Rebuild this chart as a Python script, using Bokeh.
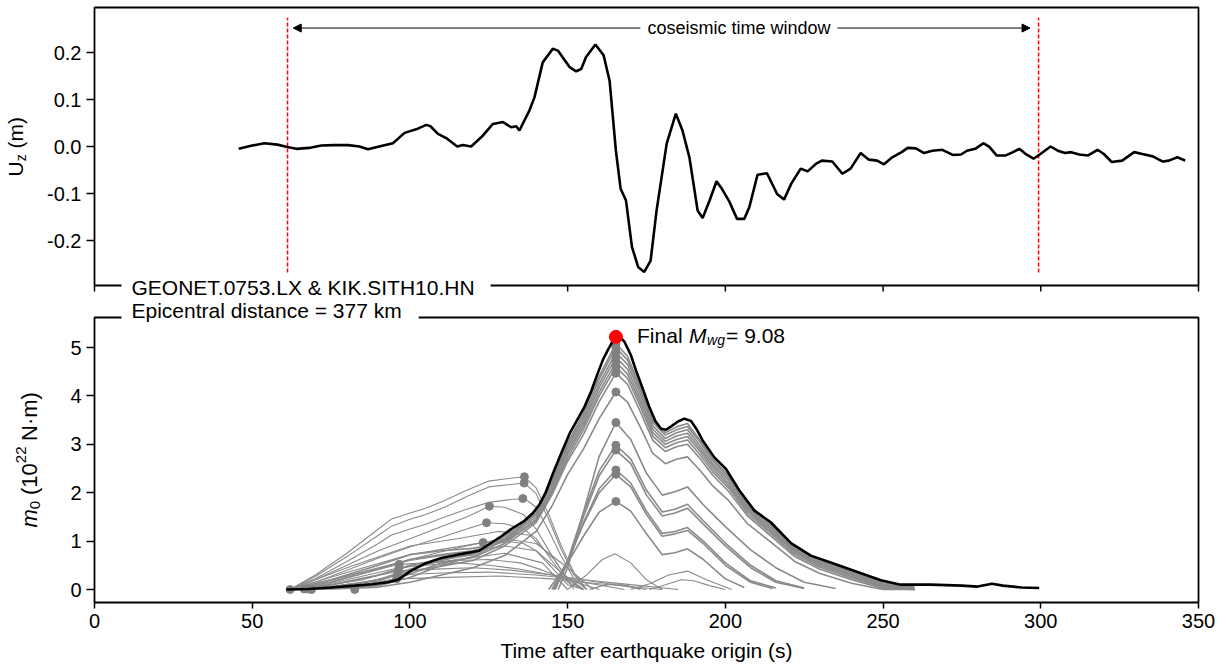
from bokeh.plotting import figure
from bokeh.layouts import column, row
from bokeh.models import (Range1d, FixedTicker, NumeralTickFormatter, Label, Arrow,
                          NormalHead, BoxAnnotation)
from bokeh.embed import file_html
from bokeh.resources import INLINE

FONT = "Liberation Sans"

# ---------------- data: top panel (vertical displacement, m) ----------------
top_t = [45.7, 50, 53.9, 58, 61.1, 64, 68, 71.9, 76, 80.4,
         84, 86.7, 90.9, 94.6, 98.3, 102.5, 105.2, 106.5, 108.9, 111.5,
         115, 116.8, 119.4, 123.1, 126.3, 129.5, 132.1, 133.7, 134.7, 137.9,
         139.5, 142.1, 145.3, 146.9, 150.6, 152.7, 154.3, 155.8, 158.8, 161.4,
         163.3, 165.3, 166.8, 168.5, 170.4, 172.4, 174.3, 176.3, 178.2, 181.4,
         184.3, 186.4, 188.6, 191.2, 192.8, 195, 197.2, 198.9, 201.1, 203.7,
         206, 207.6, 210.2, 213.2, 216.4, 218.6, 220.9, 223.9, 226.1, 228.7,
         230.6, 233.9, 237.1, 239.7, 242.9, 245.5, 248.1, 250.3, 252.9, 255.9,
         257.8, 260.4, 263, 265.6, 268.8, 272.1, 274.7, 276.6, 279.2, 281.8,
         283.7, 286, 288.9, 291.2, 293.2, 295.4, 297.7, 299.9, 303.1, 305.4,
         307.7, 309.6, 312.2, 315, 318, 320, 322.5, 325.8, 329.6, 332.2,
         335.5, 338.7, 340.6, 343.3, 345.8]
top_u = [-0.005, 0.002, 0.007, 0.004, -0.001, -0.005, -0.003, 0.002, 0.003, 0.003,
         0.0, -0.006, 0.001, 0.007, 0.029, 0.038, 0.046, 0.043, 0.027, 0.018,
         0.0, 0.003, 0.0, 0.023, 0.048, 0.052, 0.041, 0.043, 0.034, 0.077,
         0.105, 0.179, 0.208, 0.204, 0.169, 0.160, 0.165, 0.19, 0.217, 0.194,
         0.140, -0.009, -0.090, -0.115, -0.214, -0.257, -0.267, -0.243, -0.136, 0.006,
         0.070, 0.034, -0.023, -0.136, -0.152, -0.115, -0.074, -0.090, -0.115, -0.154,
         -0.154, -0.129, -0.060, -0.057, -0.101, -0.113, -0.079, -0.047, -0.053, -0.037,
         -0.030, -0.032, -0.058, -0.047, -0.014, -0.028, -0.030, -0.038, -0.023, -0.012,
         -0.003, -0.004, -0.014, -0.009, -0.007, -0.018, -0.017, -0.009, -0.005, 0.007,
         -0.001, -0.019, -0.019, -0.012, -0.005, -0.017, -0.026, -0.016, 0.0, -0.009,
         -0.014, -0.012, -0.017, -0.019, -0.007, -0.016, -0.033, -0.030, -0.012, -0.016,
         -0.021, -0.032, -0.030, -0.023, -0.030]

window_t = [61.2, 299.3]        # coseismic time window (s)
window_u = [-0.268, 0.274]      # extent of the dashed markers (m)
arrow_u = 0.252

# ---------------- data: bottom panel (moment, 1e22 N m) ----------------
bk_t = [60.8, 67.7, 75, 82.5, 88, 93, 96.2, 100.4, 104.6, 109.9,
        115.2, 122, 125.2, 129, 132.1, 136.3, 139, 141, 143, 145.3,
        148, 150.6, 153, 155.3, 157.5, 159.5, 161.2, 162.7, 164.2, 165.3,
        166.5, 168, 170, 171.7, 173.8, 175.9, 177.8, 179.6, 181.2, 182.8,
        185, 187, 189.1, 191, 192.8, 196.5, 200.2, 204.4, 209.2, 214.4,
        220.8, 227.1, 234.5, 241.9, 249.3, 255.6, 265, 275, 280, 284.5,
        288, 294, 299.5]
bk_m = [0, 0.01, 0.04, 0.08, 0.11, 0.15, 0.2, 0.39, 0.53, 0.65,
        0.72, 0.80, 0.94, 1.1, 1.25, 1.42, 1.58, 1.75, 2.0, 2.39,
        2.82, 3.22, 3.5, 3.77, 4.1, 4.46, 4.75, 4.94, 5.12, 5.22,
        5.22, 5.12, 4.85, 4.52, 4.15, 3.77, 3.48, 3.32, 3.3, 3.37,
        3.47, 3.53, 3.48, 3.3, 3.08, 2.73, 2.49, 2.05, 1.63, 1.39,
        0.96, 0.70, 0.53, 0.36, 0.19, 0.10, 0.10, 0.08, 0.06, 0.12,
        0.08, 0.04, 0.03]

# gray intermediate estimates following the main pulse
TH = [62, 75, 90, 100, 110, 120, 130, 140, 145, 150, 155, 160, 165.3, 169, 173,
      177, 181, 184.5, 188, 192, 196, 201, 207, 214, 222, 230, 240, 250, 260]
H1 = [0, 0.05, 0.2, 0.42, 0.6, 0.75, 1.1, 1.62, 2.25, 3.03, 3.64, 4.41, 5.08, 4.82, 4.18,
      3.5, 3.24, 3.36, 3.43, 3.08, 2.7, 2.35, 1.78, 1.37, 0.88, 0.6, 0.37, 0.14, 0.05]
H2 = [0, 0.1, 0.3, 0.5, 0.62, 0.72, 1.05, 1.58, 2.2, 2.97, 3.58, 4.34, 5.0, 4.74, 4.12,
      3.45, 3.19, 3.3, 3.37, 3.04, 2.66, 2.31, 1.74, 1.34, 0.85, 0.58, 0.35, 0.12, 0.03]
H3 = [0, 0.02, 0.08, 0.25, 0.5, 0.68, 1.02, 1.55, 2.16, 2.92, 3.51, 4.25, 4.9, 4.65, 4.04,
      3.38, 3.12, 3.24, 3.3, 2.97, 2.6, 2.26, 1.7, 1.3, 0.82, 0.55, 0.32, 0.1, 0.02]
H4 = [0, 0.15, 0.42, 0.62, 0.72, 0.8, 1.0, 1.5, 2.1, 2.85, 3.44, 4.17, 4.8, 4.55, 3.95,
      3.31, 3.06, 3.17, 3.23, 2.91, 2.55, 2.2, 1.66, 1.26, 0.79, 0.52, 0.3, 0.08, 0.01]
H5 = [0, 0.03, 0.12, 0.32, 0.55, 0.66, 0.95, 1.45, 2.05, 2.79, 3.37, 4.08, 4.7, 4.45, 3.87,
      3.24, 3.0, 3.1, 3.16, 2.85, 2.49, 2.15, 1.62, 1.22, 0.76, 0.49, 0.27, 0.06, 0.0]
H6 = [0, 0.2, 0.5, 0.72, 0.8, 0.85, 0.98, 1.42, 2.0, 2.72, 3.3, 4.0, 4.6, 4.36, 3.79,
      3.17, 2.93, 3.03, 3.09, 2.78, 2.43, 2.1, 1.57, 1.18, 0.72, 0.46, 0.24, 0.04, 0.0]
H7 = [0, 0.06, 0.18, 0.38, 0.48, 0.6, 0.9, 1.38, 1.95, 2.65, 3.2, 3.88, 4.47, 4.24, 3.68,
      3.08, 2.85, 2.95, 3.0, 2.7, 2.36, 2.03, 1.52, 1.13, 0.68, 0.42, 0.2, 0.02, 0.0]
H8 = [0, 0.01, 0.05, 0.15, 0.3, 0.45, 0.7, 1.2, 1.72, 2.38, 2.9, 3.53, 4.08, 3.87, 3.36,
      2.81, 2.6, 2.69, 2.74, 2.46, 2.14, 1.84, 1.36, 1.0, 0.58, 0.33, 0.13, 0.0, 0.0]

# late-starting estimates
L1_t = [144, 150, 155, 160, 165.3, 170, 175, 180, 184, 188, 193, 200, 206]
L1_m = [0, 0.55, 1.1, 1.6, 1.82, 1.62, 1.15, 0.72, 0.76, 0.84, 0.62, 0.22, 0.04]
L2_t = [145, 150, 155, 160, 165.3, 170, 175, 180, 184, 188, 193, 200, 208, 215]
L2_m = [0, 0.6, 1.35, 2.0, 2.38, 2.12, 1.55, 1.1, 1.15, 1.22, 0.95, 0.5, 0.15, 0.02]
L3_t = [145.5, 150, 155, 160, 165.3, 170, 175, 180, 184, 188, 193, 200, 208, 216]
L3_m = [0, 0.55, 1.38, 2.08, 2.47, 2.2, 1.62, 1.16, 1.2, 1.28, 1.0, 0.55, 0.18, 0.03]
L4_t = [146, 150, 155, 160, 165.3, 170, 175, 180, 184, 188, 193, 200, 208, 216, 225]
L4_m = [0, 0.55, 1.5, 2.35, 2.88, 2.6, 1.95, 1.52, 1.58, 1.68, 1.35, 0.9, 0.45, 0.15, 0.02]
L5_t = [146, 150, 155, 160, 165.3, 170, 175, 180, 184, 188, 193, 200, 208, 216, 225]
L5_m = [0, 0.6, 1.58, 2.45, 2.98, 2.7, 2.05, 1.6, 1.66, 1.76, 1.42, 0.96, 0.5, 0.18, 0.03]
L6_t = [147, 150, 155, 160, 165.3, 170, 175, 180, 184, 188, 193, 200, 208, 216, 225, 235]
L6_m = [0, 0.45, 1.6, 2.75, 3.45, 3.1, 2.4, 1.95, 2.02, 2.12, 1.75, 1.3, 0.82, 0.45, 0.15, 0.02]

# early estimates
T136 = [62, 70, 80, 90, 94, 100, 105, 111, 118, 125, 132, 136.3, 140, 144, 148, 152, 156]
F1 = [0, 0.3, 0.75, 1.25, 1.45, 1.58, 1.68, 1.84, 2.05, 2.24, 2.3, 2.33, 2.1, 1.55, 0.9, 0.35, 0.0]
F2 = [0, 0.27, 0.68, 1.12, 1.3, 1.45, 1.55, 1.7, 1.92, 2.12, 2.17, 2.2, 1.98, 1.45, 0.82, 0.3, 0.0]
F3 = [0, 0.22, 0.58, 0.95, 1.12, 1.25, 1.35, 1.5, 1.66, 1.8, 1.86, 1.88, 1.7, 1.22, 0.68, 0.22, 0.0]
M1_t = [62, 70, 80, 90, 100, 110, 118, 125.2, 130, 136, 140, 145, 150, 155]
M1_m = [0, 0.2, 0.5, 0.8, 1.05, 1.3, 1.5, 1.72, 1.7, 1.55, 1.25, 0.7, 0.2, 0.0]
M2_t = [62, 70, 80, 90, 100, 110, 118, 124.3, 130, 136, 140, 145, 150, 155]
M2_m = [0, 0.15, 0.4, 0.65, 0.88, 1.08, 1.25, 1.38, 1.36, 1.25, 1.05, 0.6, 0.15, 0.0]
M3_t = [62, 70, 80, 90, 100, 110, 118, 123.2, 130, 136, 140, 145, 150, 155]
M3_m = [0, 0.1, 0.28, 0.45, 0.62, 0.78, 0.9, 0.97, 1.0, 0.95, 0.8, 0.45, 0.1, 0.0]
X1_t = [62, 80, 100, 115, 130, 140, 150, 158]
X1_m = [0, 0.35, 0.72, 0.88, 1.05, 0.95, 0.45, 0.0]
X2_t = [62, 80, 100, 115, 130, 140, 148, 155]
X2_m = [0, 0.28, 0.6, 0.75, 0.9, 0.8, 0.35, 0.0]
X3_t = [66, 85, 100, 115, 130, 142, 150]
X3_m = [0, 0.2, 0.48, 0.62, 0.75, 0.55, 0.0]
X4_t = [62, 80, 100, 115, 128, 138, 146, 152]
X4_m = [0, 0.45, 0.9, 1.05, 1.2, 1.12, 0.6, 0.0]
E1_t = [66.5, 80, 96.6, 105, 115, 125, 135, 142, 150, 160]
E1_m = [0, 0.25, 0.52, 0.55, 0.6, 0.62, 0.55, 0.4, 0.2, 0.0]
E2_t = [66.5, 80, 96.5, 105, 115, 125, 135, 145, 155, 168]
E2_m = [0, 0.2, 0.45, 0.5, 0.55, 0.5, 0.42, 0.3, 0.15, 0.0]
E3_t = [67.8, 82, 96.3, 108, 120, 132, 145, 160, 175]
E3_m = [0, 0.18, 0.38, 0.42, 0.45, 0.4, 0.3, 0.15, 0.0]
E4_t = [68.8, 84, 96.0, 110, 125, 140, 155, 170, 185]
E4_m = [0, 0.13, 0.3, 0.34, 0.36, 0.3, 0.2, 0.1, 0.0]
E5_t = [68.8, 85, 95.8, 112, 128, 145, 160, 180]
E5_m = [0, 0.1, 0.22, 0.25, 0.28, 0.22, 0.12, 0.0]
S1_t = [150, 156, 161, 165, 170, 175, 180]
S1_m = [0, 0.3, 0.62, 0.74, 0.55, 0.2, 0.0]
S2_t = [157, 161, 165, 169, 173]
S2_m = [0, 0.08, 0.12, 0.08, 0.0]
S3_t = [176, 181, 186, 190, 195, 200]
S3_m = [0, 0.1, 0.2, 0.18, 0.08, 0.0]
S4_t = [170, 176, 182, 188, 194, 202]
S4_m = [0, 0.12, 0.3, 0.38, 0.2, 0.0]

dot_t = [62.0, 66.5, 67.8, 68.8, 82.5, 95.8, 96.0, 96.3, 96.5, 96.6,
         123.2, 124.3, 125.2, 135.8, 136.2, 136.3,
         165.3, 165.3, 165.3, 165.3, 165.3, 165.3, 165.3, 165.3, 165.3, 165.3, 165.3, 165.3, 165.3, 165.3]
dot_m = [0.0, 0.01, 0.01, 0.0, 0.0, 0.22, 0.30, 0.38, 0.45, 0.52,
         0.97, 1.38, 1.72, 1.88, 2.20, 2.33,
         1.82, 2.38, 2.47, 2.88, 2.98, 3.45, 4.08, 4.47, 4.60, 4.70, 4.80, 4.90, 5.00, 5.08]

final_mwg = "9.08"
x_ticks = [0, 50, 100, 150, 200, 250, 300, 350]
uz_ticks = [-0.2, -0.1, 0.0, 0.1, 0.2]
m0_ticks = [0, 1, 2, 3, 4, 5]

GRAY = "#8a8a8a"

# ---------------- page geometry (pixels) ----------------
W, H = 1226, 668
LABW = 44                      # strip holding the rotated y labels
BOX_L, BOX_R = 93, 1198        # panel box, x
FR_L, FR_R = 91, 1200          # frame, x (2 px wider than the box)
PXS = (BOX_R - BOX_L) / 350.0  # px per second
XR = (-(BOX_L - FR_L) / PXS, 350 + (FR_R - BOX_R) / PXS)

# top panel: 0.0 at y=146, 47 px per 0.1 m, box 7..285, frame 5..300
U0, PXU = 146, 470.0
T_TOP, T_BOT = 5, 300
UB_TOP, UB_BOT = (U0 - 7) / PXU, (U0 - 285) / PXU
# bottom panel: 0 at y=589, 48.4 px per unit, box 317..602, frame 300..604
M0, PXM = 589, 48.4
B_TOP, B_BOT = 300, 604
MB_TOP, MB_BOT = (M0 - 317) / PXM, (M0 - 602) / PXM


def style(p):
    p.grid.visible = False
    p.outline_line_color = None
    p.background_fill_color = "white"
    p.border_fill_color = "white"
    for ax in p.axis:
        ax.axis_line_color = None
        ax.major_tick_out = 6
        ax.major_tick_in = 2
        ax.major_tick_line_width = 1.5
        ax.major_tick_line_color = "black"
        ax.minor_tick_line_color = None
        ax.major_label_text_font = FONT
        ax.major_label_text_font_size = "20px"
        ax.major_label_text_color = "black"
        ax.major_label_standoff = 5


def lab(p, x, y, text, size=21, dx=0, dy=0, style_="normal", angle=0,
        align="left", baseline="alphabetic", bg=None, padding=0):
    kw = {}
    if bg is not None:
        kw.update(background_fill_color=bg, padding=padding)
    p.add_layout(Label(x=x, y=y, text=text, x_offset=dx, y_offset=dy,
                       angle=angle, angle_units="deg", text_font=FONT,
                       text_font_size=f"{size}px", text_font_style=style_,
                       text_align=align, text_baseline=baseline,
                       text_color="black", **kw))


def box(p, bottom, top):
    p.add_layout(BoxAnnotation(left=0, right=350, bottom=bottom, top=top,
                               fill_color=None, fill_alpha=0,
                               line_color="black", line_alpha=1.0, line_width=1.8))


# ---------------- top figure ----------------
p1 = figure(width=W - LABW, height=T_BOT, x_range=Range1d(*XR),
            y_range=Range1d((U0 - T_BOT) / PXU, (U0 - T_TOP) / PXU),
            x_axis_location=None,
            output_backend="svg", toolbar_location=None,
            min_border_left=FR_L - LABW, min_border_right=W - FR_R,
            min_border_top=T_TOP, min_border_bottom=0)
style(p1)
p1.yaxis.ticker = FixedTicker(ticks=uz_ticks)
p1.yaxis.formatter = NumeralTickFormatter(format="0.0")

# ticks along the lower edge of the upper panel
p1.segment(x0=x_ticks, y0=[UB_BOT] * len(x_ticks), x1=x_ticks,
           y1=[UB_BOT - 6 / PXU] * len(x_ticks), line_color="black", line_width=1.5)
p1.segment(x0=window_t, y0=[window_u[0]] * 2, x1=window_t, y1=[window_u[1]] * 2,
           line_color="red", line_width=1.5, line_dash="4 2")
p1.line(top_t, top_u, line_color="black", line_width=2.6)
box(p1, UB_BOT, UB_TOP)

p1.add_layout(Arrow(start=NormalHead(size=8, fill_color="black", line_color="black", line_width=1),
                    end=NormalHead(size=8, fill_color="black", line_color="black", line_width=1),
                    x_start=window_t[0] + 1.8, y_start=arrow_u,
                    x_end=window_t[1] - 2.7, y_end=arrow_u,
                    line_color="black", line_width=1))
lab(p1, 204.3, arrow_u, "coseismic time window", size=18, align="center",
    baseline="middle", bg="white", padding=(7, 7, 2, 2))
lab(p1, 8.55, UB_BOT, "GEONET.0753.LX & KIK.SITH10.HN", baseline="middle",
    dy=-2, bg="white", padding=(10, 16, 2, 2))

# ---------------- bottom figure ----------------
p2 = figure(width=W - LABW, height=H - B_TOP, x_range=p1.x_range,
            y_range=Range1d((M0 - B_BOT) / PXM, (M0 - B_TOP) / PXM),
            output_backend="svg", toolbar_location=None,
            min_border_left=FR_L - LABW, min_border_right=W - FR_R,
            min_border_top=0, min_border_bottom=H - B_BOT)
style(p2)
p2.xaxis.ticker = FixedTicker(ticks=x_ticks)
p2.xaxis.major_tick_out = 4
p2.yaxis.ticker = FixedTicker(ticks=m0_ticks)
p2.xaxis.axis_label = "Time after earthquake origin (s)"
p2.xaxis.axis_label_text_font = FONT
p2.xaxis.axis_label_text_font_size = "21px"
p2.xaxis.axis_label_text_font_style = "normal"
p2.xaxis.axis_label_text_color = "black"
p2.xaxis.axis_label_standoff = 8

thin_xs = [T136, T136, T136, M1_t, M2_t, M3_t, X1_t, X2_t, X3_t, X4_t,
           E1_t, E2_t, E3_t, E4_t, E5_t, S1_t, S2_t, S3_t, S4_t]
thin_ys = [F1, F2, F3, M1_m, M2_m, M3_m, X1_m, X2_m, X3_m, X4_m,
           E1_m, E2_m, E3_m, E4_m, E5_m, S1_m, S2_m, S3_m, S4_m]
thick_xs = [TH, TH, TH, TH, TH, TH, TH, TH, L1_t, L2_t, L3_t, L4_t, L5_t, L6_t]
thick_ys = [H1, H2, H3, H4, H5, H6, H7, H8, L1_m, L2_m, L3_m, L4_m, L5_m, L6_m]

p2.multi_line(thin_xs, thin_ys, line_color=GRAY, line_width=1.1)
p2.multi_line(thick_xs, thick_ys, line_color=GRAY, line_width=1.6)
p2.scatter(dot_t, dot_m, size=8, fill_color="#808080", line_color="#808080")
p2.line(bk_t, bk_m, line_color="black", line_width=2.6)

ipk = bk_m.index(max(bk_m))
p2.scatter([bk_t[ipk]], [bk_m[ipk]], size=13, fill_color="red", line_color="red")
box(p2, MB_BOT, MB_TOP)

# annotation Final M_wg = 9.08
fx, fy = 172.0, 5.09
lab(p2, fx, fy, "Final", dy=8)
lab(p2, fx, fy, "M", dx=52, dy=8, style_="italic")
lab(p2, fx, fy, "wg", size=14, dx=70, dy=3, style_="italic")
lab(p2, fx, fy, "= " + final_mwg, dx=89, dy=8)

lab(p2, 8.55, MB_TOP, "Epicentral distance = 377 km", dy=6, bg="white",
    padding=(10, 17, 2, 4))

# ---------------- strip with rotated y-axis titles ----------------
pl = figure(width=LABW, height=H, x_range=Range1d(0, LABW), y_range=Range1d(H, 0),
            x_axis_location=None, y_axis_location=None,
            output_backend="svg", toolbar_location=None,
            min_border_left=0, min_border_right=0, min_border_top=0, min_border_bottom=0)
pl.grid.visible = False
pl.outline_line_color = None
pl.background_fill_color = "white"
pl.border_fill_color = "white"

# U_z (m)
ux, uy = 15, 176
lab(pl, ux, uy, "U", angle=90)
lab(pl, ux, uy, "z", size=14, dx=5, dy=15.2, angle=90)
lab(pl, ux, uy, "(m)", dy=28, angle=90)

# m_0 (10^22 N·m)
mx, my = 29, 527
lab(pl, mx, my, "m", size=22, angle=90, style_="italic")
lab(pl, mx, my, "0", size=15, dx=5, dy=18.3, angle=90)
lab(pl, mx, my, "(10", size=22, dy=32.5, angle=90)
lab(pl, mx, my, "22", size=15, dx=-9, dy=64.3, angle=90)
lab(pl, mx, my, "N·m)", size=22, dy=86.5, angle=90)

layout = row(pl, column(p1, p2))
open("out.html", "w").write(file_html(layout, INLINE))
